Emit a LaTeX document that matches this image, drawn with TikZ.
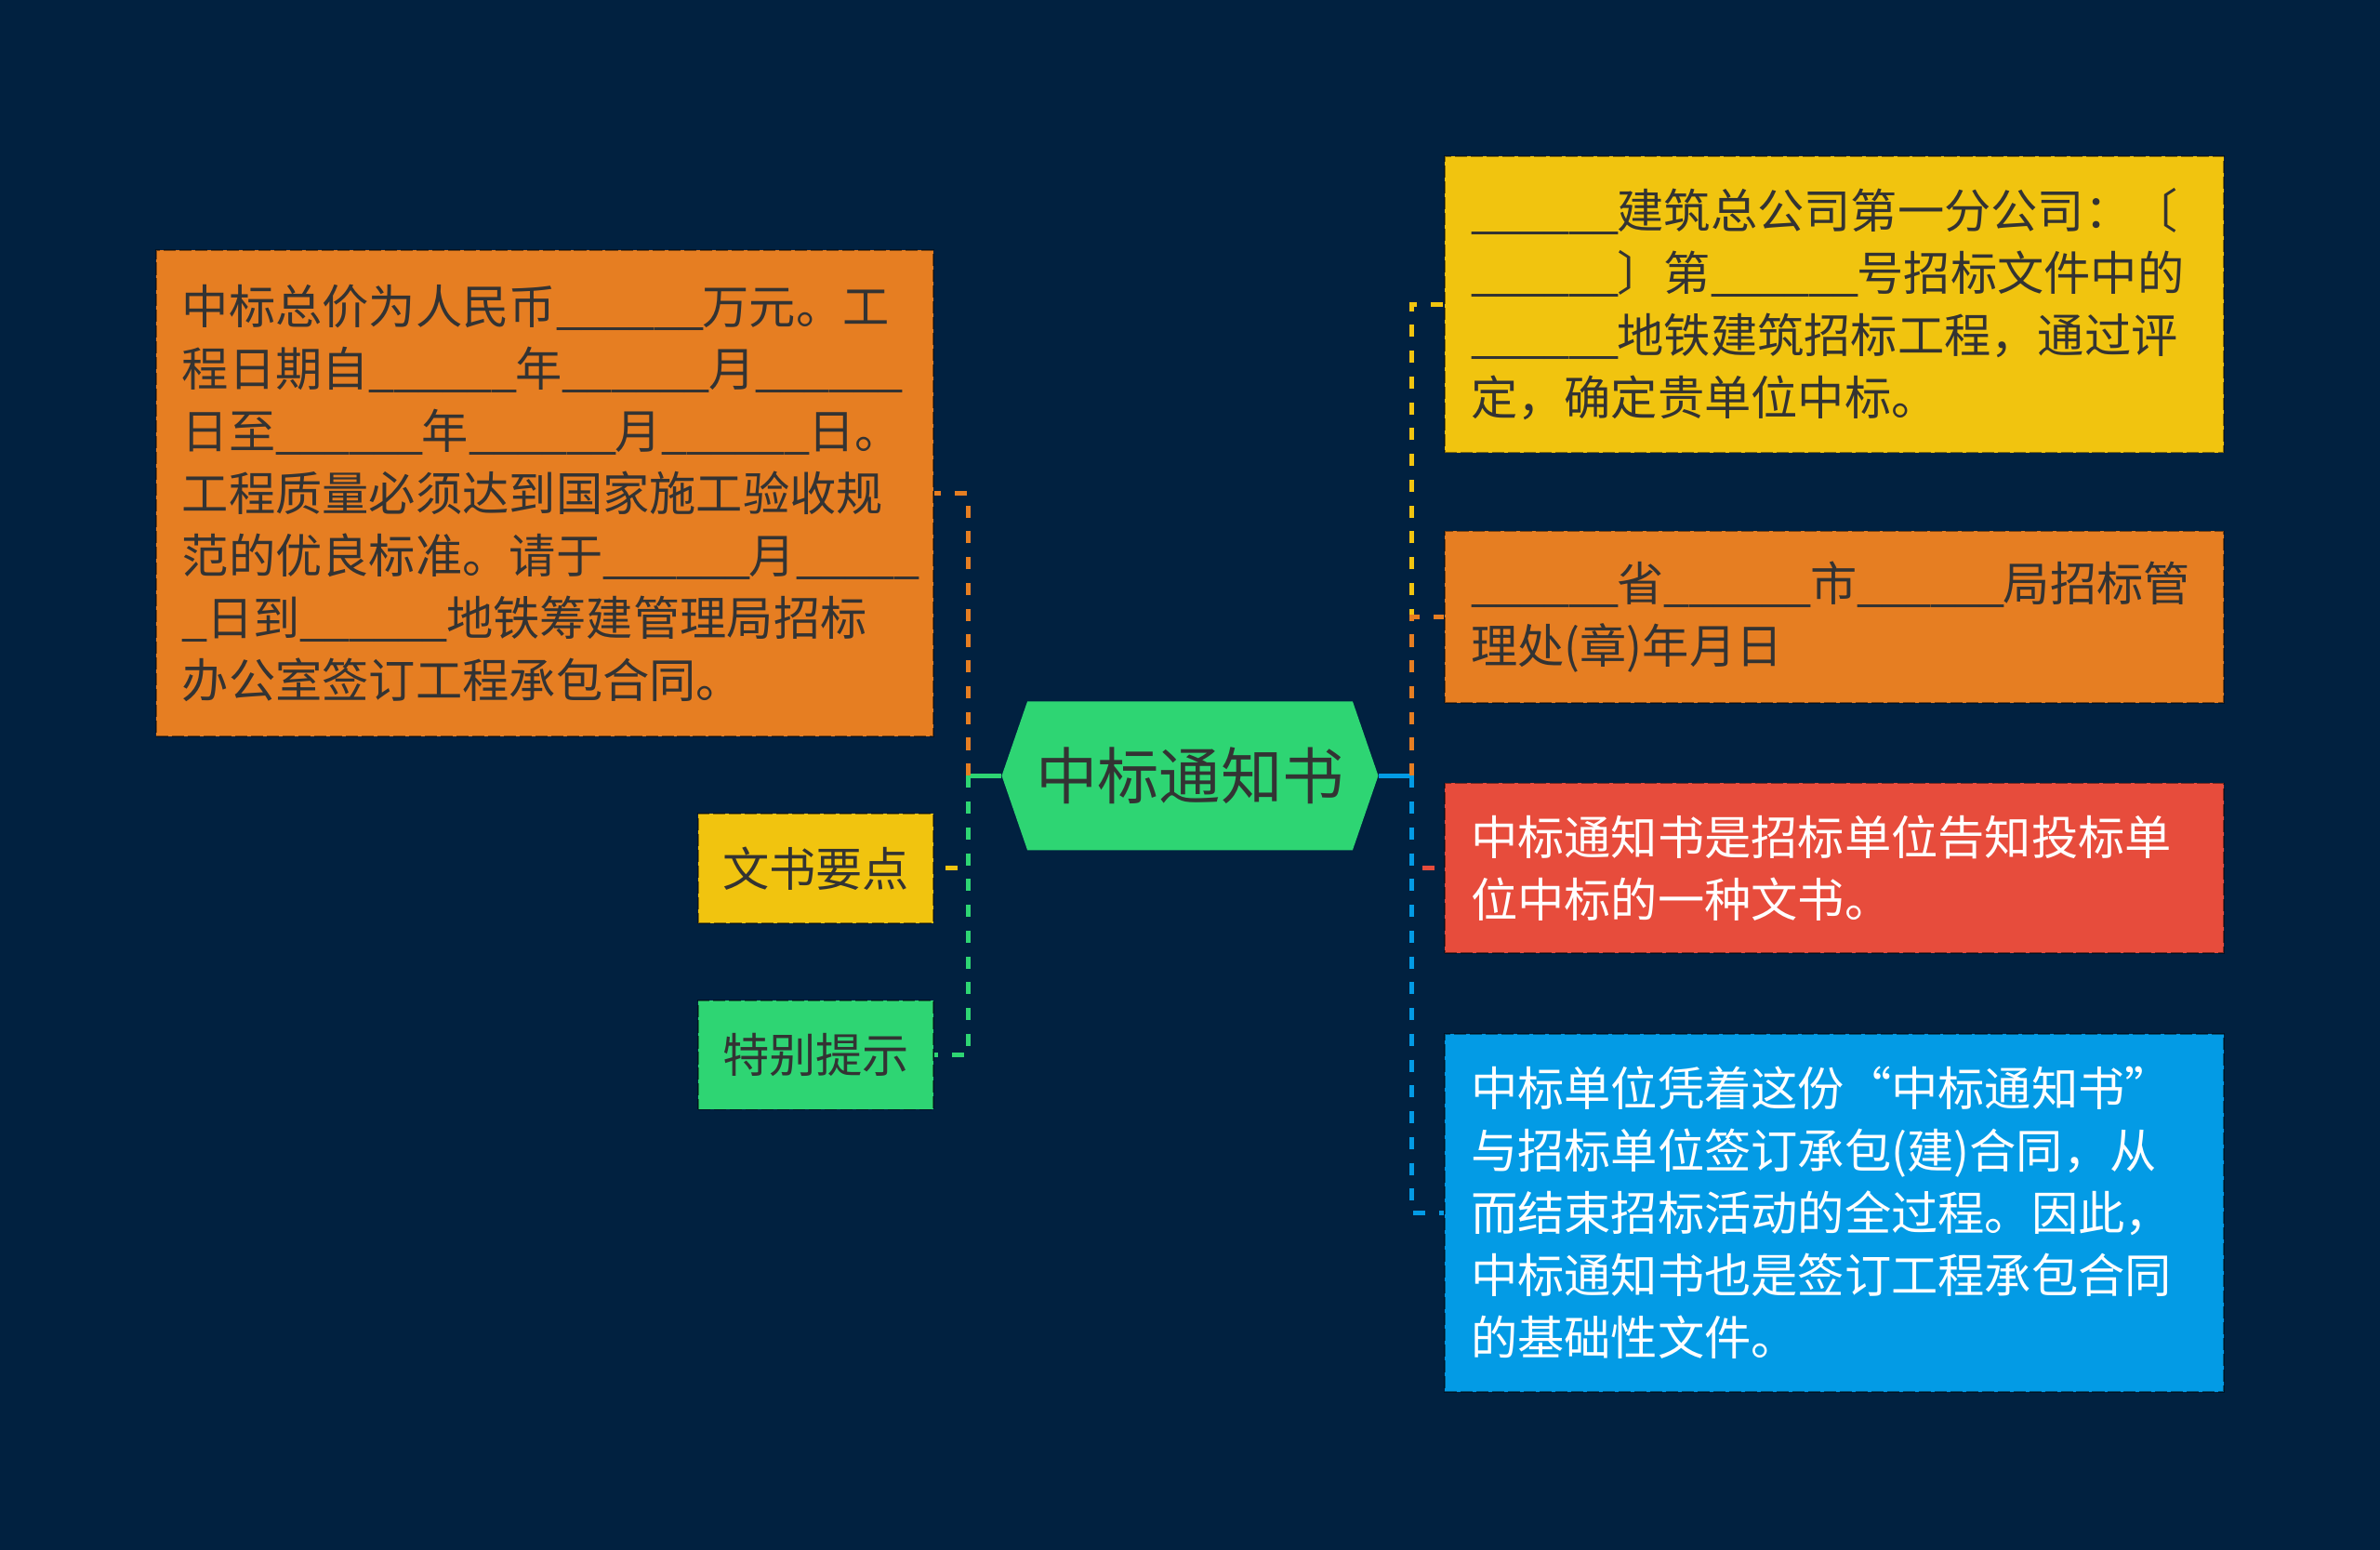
\documentclass[tikz,border=0pt]{standalone}
\usepackage{fontspec}
\setmainfont{Noto Sans CJK SC}
\usetikzlibrary{positioning,shapes.symbols}
\definecolor{bgc}{HTML}{012140}
\definecolor{ink}{HTML}{333333}
\definecolor{orangec}{HTML}{E67E22}
\definecolor{yellowc}{HTML}{F1C40F}
\definecolor{greenc}{HTML}{2ED573}
\definecolor{redc}{HTML}{E74C3C}
\definecolor{bluec}{HTML}{039BE5}
\newcommand{\bodyfs}{\fontsize{21.9pt}{29.2pt}\selectfont}
\newcommand{\us}{\makebox[0.522em][l]{\_}}
\newcommand{\blank}{\us\us\us\us\us\us}

\begin{document}
\begin{tikzpicture}[x=0.25mm, y=-0.25mm, font=\bodyfs,
  card/.style={fill=#1, draw=black, draw opacity=0.45, dash pattern=on 2mm off 0.6mm,
               line width=0.8pt, text=ink, align=left, inner xsep=4.25mm, inner ysep=0pt},
  card/.default=orangec,
  wide/.style={card=#1, text width=119.75mm},
  tag/.style={card=#1, align=center, minimum width=38.75mm, minimum height=18mm, inner xsep=0pt},
  root/.style={signal, signal to=east and west, signal pointer angle=142, fill=greenc,
               text=ink, minimum width=62mm, minimum height=24.5mm, inner sep=0pt,
               font=\fontsize{28.9pt}{34pt}\selectfont},
  stub/.style={draw=#1, line width=0.75mm},
  link/.style={draw=#1, line width=0.75mm, dash pattern=on 2mm off 2.25mm}]
\fill[bgc] (0,0) rectangle (1568,1021);
% -- centre
\node[root] (root) at (784,511) {中标通知书};
\coordinate (lt) at (638,511);
\coordinate (rt) at (930,511);
% -- left side
\node[card=orangec, text width=119.5mm, minimum height=80mm] (lo) at (359,325)
  {中标总价为人民币\blank 万元。工\\
   程日期自\blank 年\blank 月\blank\\
   日至\blank 年\blank 月\blank 日。\\
   工程质量必须达到国家施工验收规\\
   范的优良标准。请于\blank 月\us\us\us\us\us\\
   \us 日到\blank 地铁筹建管理局招标\\
   办公室签订工程承包合同。};
\node[tag=yellowc] (ly) at (537.5,572) {文书要点};
\node[tag=greenc] (lg) at (537.5,695) {特别提示};
% -- right side
\node[wide=yellowc, minimum height=48.75mm] (ry) at (1208.5,200.5)
  {\blank 建筑总公司第一分公司：〔\\
   \blank 〕第\blank 号招标文件中的\\
   \blank 地铁建筑招标工程，通过评\\
   定，确定贵单位中标。};
\node[wide=orangec, minimum height=28.25mm] (ro) at (1208.5,406.5)
  {\blank 省\blank 市\blank 局招标管\\
   理处(章)年月日};
\node[wide=redc, text=white, minimum height=28mm] (rr) at (1208.5,572)
  {中标通知书是招标单位告知投标单\\
   位中标的一种文书。};
\node[wide=bluec, text=white, minimum height=59mm] (rb) at (1208.5,799)
  {中标单位凭着这份“中标通知书”\\
   与招标单位签订承包(建)合同，从\\
   而结束招标活动的全过程。因此，\\
   中标通知书也是签订工程承包合同\\
   的基础性文件。};
% -- connectors
\draw[stub=greenc] (root.west) -- (lt);
\draw[stub=bluec] (root.east) -- (rt);
\foreach \n/\c in {lo/orangec, ly/yellowc, lg/greenc} \draw[link=\c] (lt) |- (\n.east);
\foreach \n/\c in {ry/yellowc, ro/orangec, rr/redc, rb/bluec} \draw[link=\c] (rt) |- (\n.west);
\end{tikzpicture}
\end{document}
